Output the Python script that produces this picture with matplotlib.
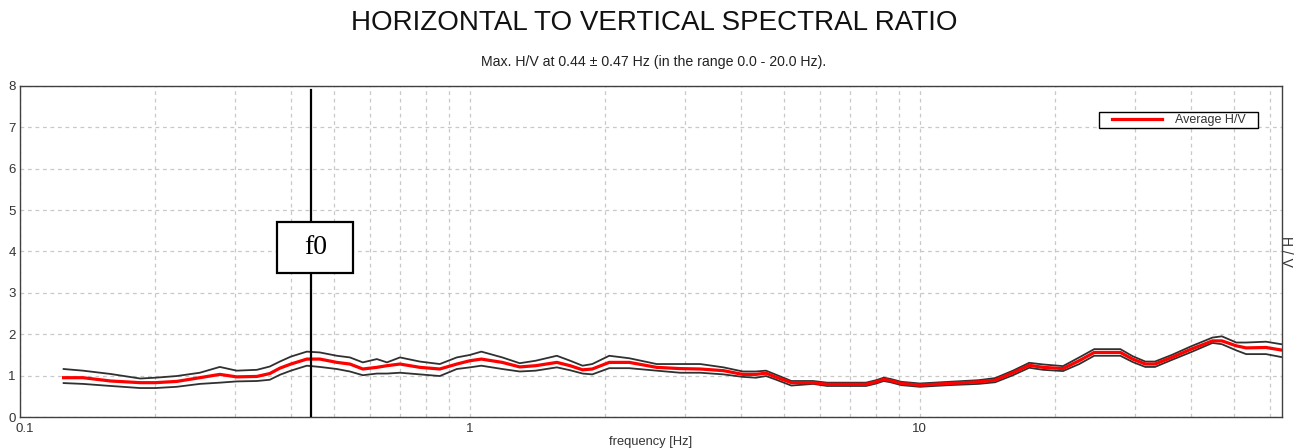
import matplotlib
matplotlib.use("Agg")
import matplotlib.pyplot as plt
import matplotlib.transforms as mtransforms
from matplotlib.patches import Rectangle
from matplotlib.legend_handler import HandlerLine2D
from matplotlib.ticker import LogLocator, FixedLocator, NullFormatter, FixedFormatter

plt.rcParams['font.family'] = ['Liberation Sans', 'DejaVu Sans']

# ---- data ----
freq = [0.125, 0.138, 0.159, 0.185, 0.2, 0.223, 0.251, 0.278, 0.303, 0.336,
        0.359, 0.378, 0.40, 0.434, 0.464, 0.506, 0.541, 0.578, 0.621, 0.654,
        0.699, 0.774, 0.857, 0.935, 1.0, 1.06, 1.18, 1.29, 1.40, 1.56,
        1.67, 1.78, 1.87, 2.04, 2.26, 2.60, 2.93, 3.25, 3.66, 4.04,
        4.32, 4.55, 4.77, 5.18, 5.79, 6.22, 6.94, 7.59, 8.0, 8.31,
        8.6, 9.1, 10.0, 11.6, 13.5, 14.7, 16.1, 17.5, 18.8, 20.8,
        22.6, 24.4, 27.9, 29.7, 31.7, 33.3, 36.3, 40.1, 44.7, 46.9,
        50.5, 53.1, 58.8, 63.5]
hv_avg = [0.95, 0.95, 0.87, 0.83, 0.83, 0.86, 0.95, 1.03, 0.97, 0.98,
          1.05, 1.18, 1.28, 1.40, 1.40, 1.32, 1.28, 1.16, 1.20, 1.24,
          1.28, 1.20, 1.16, 1.28, 1.36, 1.40, 1.32, 1.21, 1.24, 1.32,
          1.24, 1.14, 1.16, 1.32, 1.32, 1.20, 1.17, 1.16, 1.12, 1.03,
          1.03, 1.06, 0.97, 0.83, 0.83, 0.79, 0.79, 0.79, 0.85, 0.91,
          0.88, 0.81, 0.77, 0.81, 0.85, 0.89, 1.07, 1.25, 1.20, 1.17,
          1.36, 1.56, 1.56, 1.40, 1.28, 1.28, 1.44, 1.64, 1.84, 1.84,
          1.72, 1.67, 1.68, 1.62]
hv_upper = [1.16, 1.12, 1.04, 0.93, 0.95, 0.99, 1.07, 1.21, 1.12, 1.14,
            1.22, 1.34, 1.46, 1.58, 1.56, 1.48, 1.44, 1.32, 1.40, 1.32,
            1.44, 1.34, 1.28, 1.44, 1.50, 1.58, 1.44, 1.30, 1.36, 1.48,
            1.36, 1.24, 1.28, 1.48, 1.42, 1.28, 1.28, 1.28, 1.20, 1.10,
            1.10, 1.12, 1.03, 0.87, 0.87, 0.83, 0.83, 0.83, 0.89, 0.95,
            0.92, 0.85, 0.81, 0.85, 0.89, 0.94, 1.12, 1.31, 1.27, 1.23,
            1.44, 1.64, 1.64, 1.47, 1.34, 1.34, 1.50, 1.71, 1.92, 1.95,
            1.80, 1.80, 1.82, 1.76]
hv_lower = [0.82, 0.80, 0.75, 0.70, 0.70, 0.73, 0.80, 0.83, 0.86, 0.87,
            0.90, 1.02, 1.12, 1.24, 1.21, 1.16, 1.10, 1.01, 1.05, 1.05,
            1.07, 1.03, 0.99, 1.16, 1.20, 1.24, 1.16, 1.10, 1.12, 1.20,
            1.13, 1.05, 1.03, 1.18, 1.18, 1.12, 1.07, 1.07, 1.03, 0.97,
            0.95, 0.99, 0.91, 0.76, 0.80, 0.75, 0.75, 0.75, 0.81, 0.87,
            0.84, 0.77, 0.73, 0.77, 0.80, 0.84, 1.01, 1.19, 1.14, 1.11,
            1.28, 1.48, 1.48, 1.33, 1.21, 1.21, 1.38, 1.57, 1.79, 1.76,
            1.61, 1.52, 1.52, 1.45]
f0 = 0.444
f0_err = 0.47
x_ticks = [0.1, 1, 10]
x_tick_labels = ['0.1', '1', '10']
y_ticks = [0, 1, 2, 3, 4, 5, 6, 7, 8]

W, H, DPI = 1308, 448, 100
fig = plt.figure(figsize=(W / DPI, H / DPI), dpi=DPI)
ax = fig.add_axes([20 / W, 1 - 417 / H, (1282 - 20) / W, (417 - 86) / H])

ax.set_xscale('log')
ax.set_xlim(0.1, 63.8)
ax.set_ylim(0, 8)

grid_kw = dict(color='#c8c8c8', linestyle=(0, (3, 3)), linewidth=0.9)
ax.xaxis.set_major_locator(FixedLocator(x_ticks))
ax.xaxis.set_major_formatter(FixedFormatter(x_tick_labels))
ax.xaxis.set_minor_locator(LogLocator(base=10, subs=range(2, 10)))
ax.xaxis.set_minor_formatter(NullFormatter())
ax.set_yticks(y_ticks)
ax.grid(True, which='both', axis='x', **grid_kw)
ax.grid(True, which='major', axis='y', **grid_kw)
ax.set_axisbelow(True)
ax.tick_params(which='both', length=0, labelsize=9.5, labelcolor='#333333', pad=3)
ax.tick_params(axis='x', pad=4)
for sp in ax.spines.values():
    sp.set_color('#404040')
    sp.set_linewidth(1.0)

ax.plot(freq, hv_upper, color='#303030', lw=1.3, zorder=3)
ax.plot(freq, hv_lower, color='#303030', lw=1.3, zorder=3)
ax.plot(freq, hv_avg, color='#ff0000', lw=2.3, zorder=4, label='Average H/V   ')

# f0 marker line and box
ax.plot([f0, f0], [0, 7.9], color='black', lw=1.6, zorder=5)
box_trans = mtransforms.Affine2D() + mtransforms.ScaledTranslation(f0, 4.1, ax.transData)
ax.add_patch(Rectangle((-34, -25.5), 76, 51, transform=box_trans,
                       facecolor='white', edgecolor='black', lw=1.6, zorder=6))
ax.text(f0, 4.1, 'f0', ha='center', va='center', fontsize=20,
        family=['Liberation Serif', 'DejaVu Serif'], zorder=7,
        transform=ax.transData + mtransforms.ScaledTranslation(4 / DPI, 0, fig.dpi_scale_trans))

leg_fs = 9
leg = ax.legend(loc='upper right', bbox_to_anchor=((1258 - 20) / 1262, (416 - 112) / 330),
                fontsize=leg_fs, frameon=True, fancybox=False, edgecolor='black',
                framealpha=1, handlelength=4.9, handletextpad=1.0, borderpad=0.15,
                borderaxespad=0,
                handler_map={plt.Line2D: HandlerLine2D(xpad=0.85)})
leg.get_frame().set_linewidth(1.0)
for t in leg.get_texts():
    t.set_color('#333333')

ax.set_xlabel('frequency [Hz]', fontsize=9.3, color='#333333', labelpad=1)
ax.yaxis.set_label_position('right')
ax.set_ylabel('H / V', fontsize=10, color='#333333', rotation=270, labelpad=8)

# nudge the first x tick label right, as in the reference
fig.canvas.draw()
lbl0 = ax.get_xticklabels()[0]
lbl0.set_transform(lbl0.get_transform() + mtransforms.ScaledTranslation(5 / DPI, 0, fig.dpi_scale_trans))

fig.text(0.5, 1 - 23 / H, 'HORIZONTAL TO VERTICAL SPECTRAL RATIO', ha='center', va='center',
         fontsize=20, color='#111111')
fig.text(0.5, 1 - 62 / H,
         'Max. H/V at %.2f \u00b1 %.2f Hz (in the range 0.0 - 20.0 Hz).' % (f0, f0_err),
         ha='center', va='center', fontsize=10.2, color='#222222')

fig.savefig('out.png', dpi=DPI)
